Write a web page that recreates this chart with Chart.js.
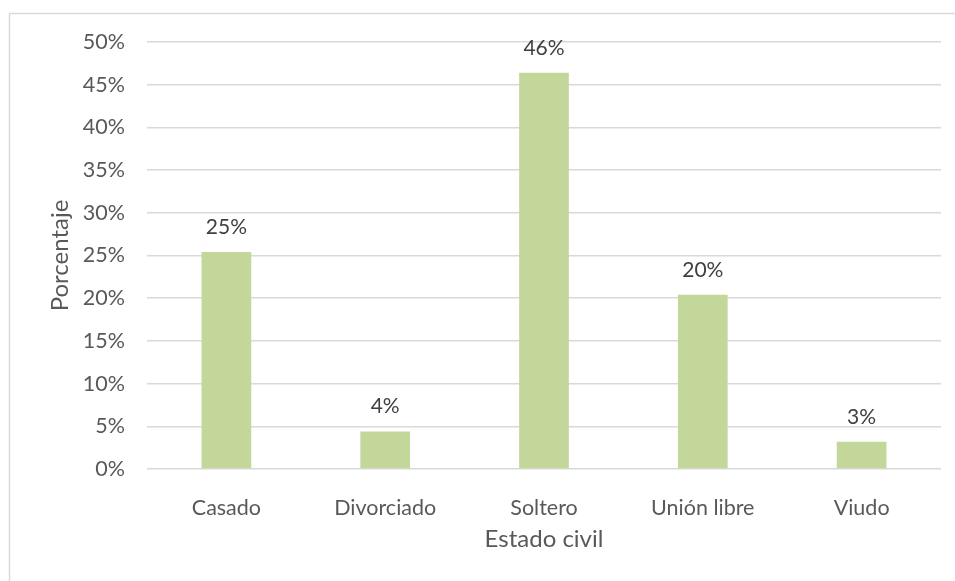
<!DOCTYPE html>
<html>
<head>
<meta charset="utf-8">
<script src="https://cdn.jsdelivr.net/npm/chart.js@4/dist/chart.umd.min.js"></script>
<style>
  html, body { margin: 0; padding: 0; background: #fff; }
  #wrap { width: 955px; height: 581px; position: relative; }
</style>
</head>
<body>
<div id="wrap"><canvas id="chart" width="955" height="581"></canvas></div>
<script>
// Estado civil vs porcentaje
const categories = ['Casado', 'Divorciado', 'Soltero', 'Unión libre', 'Viudo']
const percentages = [25.4, 4.4, 46.4, 20.4, 3.2]
const yTicks = [0, 5, 10, 15, 20, 25, 30, 35, 40, 45, 50]

const fontFamily = 'Lato, "Noto Sans", sans-serif'
const textColor = '#595959'

// light frame around the chart (top and left edges show in the original)
const framePlugin = {
    id: 'frame',
    beforeDraw(chart) {
        const ctx = chart.ctx
        ctx.save()
        ctx.strokeStyle = '#d9d9d9'
        ctx.lineWidth = 1.5
        ctx.strokeRect(9.5, 13.5, 1000, 1000)
        ctx.restore()
    }
}

// value labels above each bar
const valueLabels = {
    id: 'valueLabels',
    afterDatasetsDraw(chart) {
        const ctx = chart.ctx
        const meta = chart.getDatasetMeta(0)
        ctx.save()
        ctx.fillStyle = '#404040'
        ctx.font = '21px ' + fontFamily
        ctx.textAlign = 'center'
        ctx.textBaseline = 'alphabetic'
        meta.data.forEach((bar, i) => {
            ctx.fillText(Math.round(percentages[i]) + '%', bar.x, bar.y - 18)
        })
        ctx.restore()
    }
}

new Chart(document.getElementById('chart'), {
    type: 'bar',
    data: {
        labels: categories,
        datasets: [{
            label: 'Porcentaje',
            data: percentages,
            backgroundColor: '#c4d79b',
            categoryPercentage: 1,
            barPercentage: 0.313
        }]
    },
    options: {
        responsive: false,
        animation: false,
        layout: { padding: { left: 0, right: 14, top: 42, bottom: 0 } },
        plugins: {
            legend: { display: false },
            tooltip: { enabled: false }
        },
        scales: {
            x: {
                grid: { display: false },
                border: { display: false },
                ticks: { color: textColor, font: { family: fontFamily, size: 21.5 }, padding: 18 },
                title: {
                    display: true,
                    text: 'Estado civil',
                    color: textColor,
                    font: { family: fontFamily, size: 24 },
                    padding: { top: 4, bottom: 27 }
                },
                afterFit(scale) { scale.height = 112 }
            },
            y: {
                min: 0,
                max: 50,
                afterBuildTicks(scale) { scale.ticks = yTicks.map(v => ({ value: v })) },
                grid: { color: '#d9d9d9', lineWidth: 1.5, drawTicks: false },
                border: { display: false },
                ticks: {
                    color: textColor,
                    font: { family: fontFamily, size: 21.5 },
                    padding: 22,
                    callback: v => v + '%'
                },
                title: {
                    display: true,
                    text: 'Porcentaje',
                    color: textColor,
                    font: { family: fontFamily, size: 24 },
                    padding: { top: 46, bottom: 0 }
                },
                afterFit(scale) { scale.width = 147 }
            }
        }
    },
    plugins: [framePlugin, valueLabels]
})
</script>
</body>
</html>
